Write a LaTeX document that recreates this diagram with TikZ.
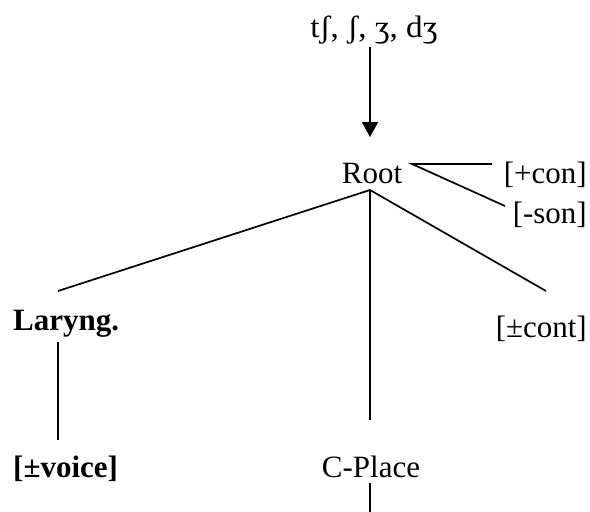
\documentclass[tikz,border=0pt]{standalone}
\usepackage{fontspec}
\setmainfont{Liberation Serif}
\usetikzlibrary{arrows.meta}
\begin{document}
\begin{tikzpicture}[x=1pt,y=-1pt,
    lbl/.style={inner sep=0pt,font=\fontsize{31}{37}\selectfont},
    blbl/.style={lbl,font=\fontsize{31}{37}\selectfont\bfseries},
    branch/.style={line width=1.7pt},
    feed/.style={line width=1.7pt,-{Triangle[width=16pt,length=15pt]}}]
  \useasboundingbox (0,0) rectangle (590,512);

  % segments and root
  \node[lbl,anchor=base] (seg) at (374,37) {\scalebox{1.07}[1]{tʃ, ʃ, ʒ, dʒ}};
  \node[lbl,anchor=base] (root) at (372,183) {Root};
  \node[lbl,anchor=base east] (con) at (587,183) {[+con]};
  \node[lbl,anchor=base east] (son) at (587,223) {[-son]};

  % daughters
  \node[blbl,anchor=base west] (lar) at (13,330) {Laryng.};
  \node[lbl,anchor=base east] (cont) at (587,337) {[±cont]};
  \node[blbl,anchor=base west] (voice) at (13,477) {[±voice]};
  \node[lbl,anchor=base] (cpl) at (371,477) {C-Place};

  % attachment points
  \coordinate (arrtop) at (370,47);
  \coordinate (arrtip) at (370,137);
  \coordinate (rootfoot) at (370,190);
  \coordinate (rootside) at (412,164);
  \coordinate (conend) at (492,164);
  \coordinate (sonend) at (505,206);
  \coordinate (larend) at (58,291);
  \coordinate (contend) at (546,291);
  \coordinate (cplend) at (370,420);
  \coordinate (lartop) at (58,342);
  \coordinate (larbot) at (58,440);
  \coordinate (cpltop) at (370,483);
  \coordinate (cplbot) at (370,512);

  \draw[feed] (arrtop) -- (arrtip);
  \draw[branch] (conend) -- (rootside) -- (sonend);
  \draw[branch] (larend) -- (rootfoot) -- (contend);
  \draw[branch] (rootfoot) -- (cplend);
  \draw[branch] (lartop) -- (larbot);
  \draw[branch] (cpltop) -- (cplbot);
\end{tikzpicture}
\end{document}
